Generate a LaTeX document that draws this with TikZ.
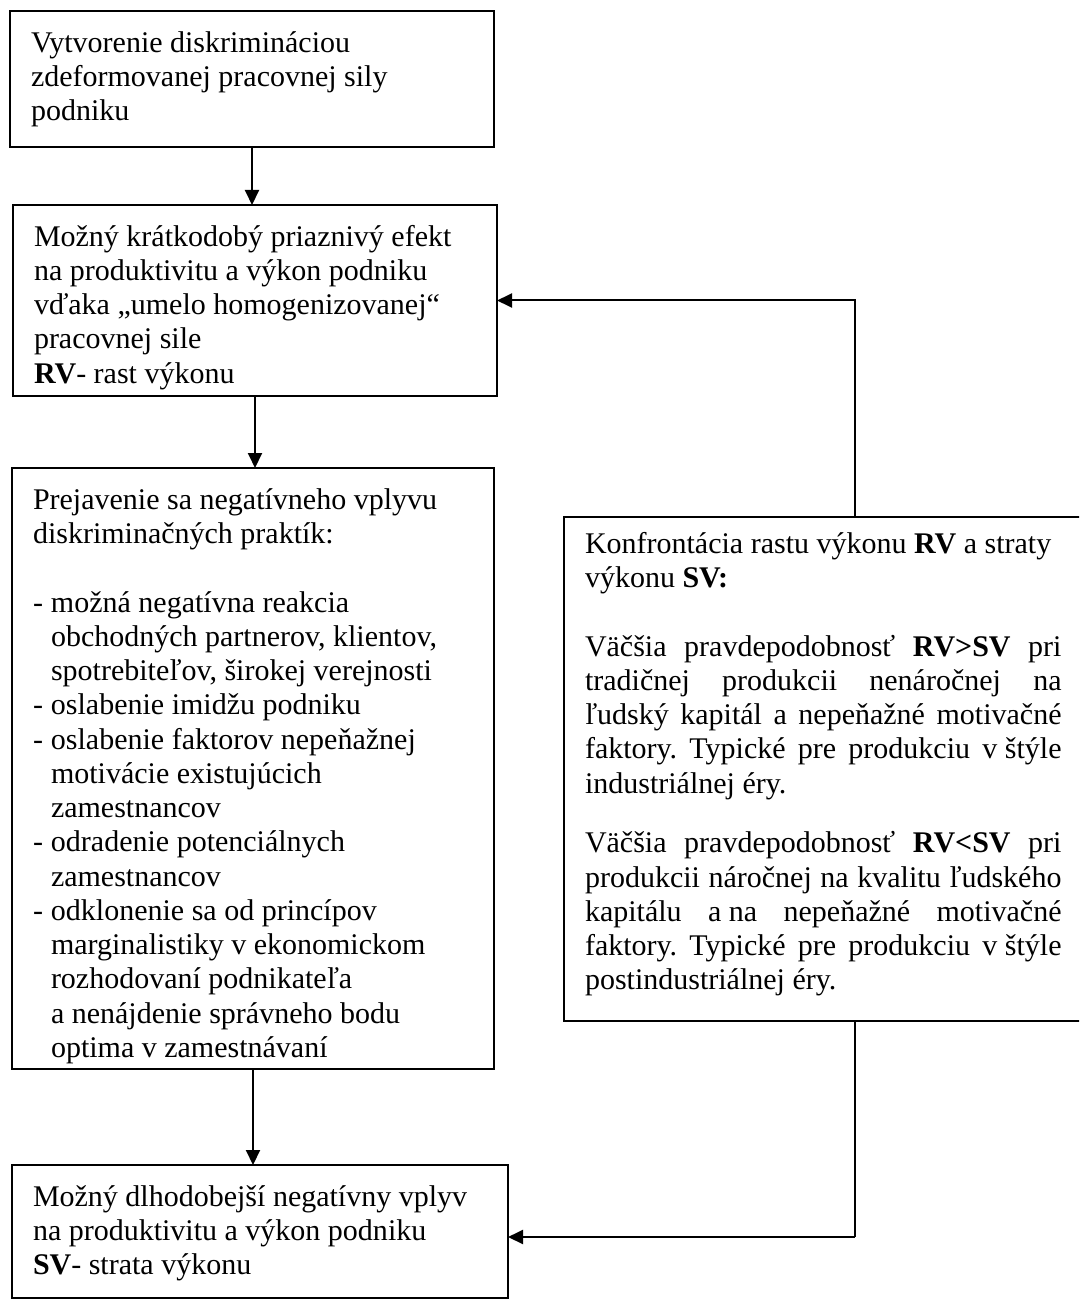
\documentclass[tikz,border=0pt]{standalone}
\usepackage{fontspec}
\setmainfont{Liberation Serif}
\usetikzlibrary{arrows.meta}

\tikzset{
  flowbox/.style={draw, line width=0.8pt, anchor=north west, outer sep=0pt,
    inner xsep=8.4pt, inner ysep=5pt, font=\fontsize{12}{13.7}\selectfont},
  flowarrow/.style={line width=0.8pt, -{Triangle[length=6pt,width=5.6pt]}},
  flowline/.style={line width=0.8pt}
}
\newcommand{\boxtext}[3]{\parbox[t][#2][t]{#1}{\frenchspacing\rule{0pt}{11.5pt}#3}}
\newcommand{\dashitem}{\par\hangindent=7.2pt\hangafter=1\makebox[7.2pt][l]{-}}
\newcommand{\fullline}[1]{\makebox[\linewidth][s]{#1}}

\begin{document}
\begin{tikzpicture}[x=0.4pt, y=-0.4pt]
  \useasboundingbox (0,0) rectangle (1079,1304);
  \clip (0,0) rectangle (1079,1304);

  % left column
  \node[flowbox] (nVytv) at (10,11) {\boxtext{176.8pt}{44.4pt}{%
    Vytvorenie diskrimináciou\\
    zdeformovanej pracovnej sily\\
    podniku}};
  \node[flowbox] (nKratko) at (13,205) {\boxtext{176.8pt}{66.4pt}{%
    Možný krátkodobý priaznivý efekt\\
    na produktivitu a výkon podniku\\
    vďaka „umelo homogenizovanej“\\
    pracovnej sile\\
    \textbf{RV}- rast výkonu}};
  \node[flowbox] (nPrej) at (12,468) {\boxtext{176pt}{230.4pt}{%
    Prejavenie sa negatívneho vplyvu\\
    diskriminačných praktík:\par
    \vspace{\baselineskip}
    \dashitem možná negatívna reakcia\\
      obchodných partnerov, klientov,\\
      spotrebiteľov, širokej verejnosti
    \dashitem oslabenie imidžu podniku
    \dashitem oslabenie faktorov nepeňažnej\\
      motivácie existujúcich\\
      zamestnancov
    \dashitem odradenie potenciálnych\\
      zamestnancov
    \dashitem odklonenie sa od princípov\\
      marginalistiky v ekonomickom\\
      rozhodovaní podnikateľa\\
      a nenájdenie správneho bodu\\
      optima v zamestnávaní}};
  \node[flowbox] (nDlho) at (12,1165) {\boxtext{181.6pt}{43.2pt}{%
    Možný dlhodobejší negatívny vplyv\\
    na produktivitu a výkon podniku\\
    \textbf{SV}- strata výkonu}};

  % right column
  \node[flowbox, inner ysep=3pt] (nKonfr) at (564,517) {\boxtext{190.6pt}{195.6pt}{%
    Konfrontácia rastu výkonu \textbf{RV} a straty\\
    výkonu \textbf{SV:}\par
    \vspace{\baselineskip}
    \fullline{Väčšia pravdepodobnosť \textbf{RV>SV} pri}\\
    \fullline{tradičnej produkcii nenáročnej na}\\
    \fullline{ľudský kapitál a nepeňažné motivačné}\\
    \fullline{faktory. Typické pre produkciu \hbox{v štýle}}\\
    industriálnej éry.\par
    \vspace{10.2pt}
    \fullline{Väčšia pravdepodobnosť \textbf{RV<SV} pri}\\
    \fullline{produkcii náročnej na kvalitu ľudského}\\
    \fullline{kapitálu \hbox{a na} nepeňažné motivačné}\\
    \fullline{faktory. Typické pre produkciu \hbox{v štýle}}\\
    postindustriálnej éry.}};

  \coordinate (fbUp) at (855,300);
  \coordinate (fbLow) at (855,1237);

  % arrows down the left column
  \draw[flowarrow] (nVytv.south) -- (nVytv.south |- nKratko.north);
  \draw[flowarrow] (nKratko.south) -- (nKratko.south |- nPrej.north);
  \draw[flowarrow] (nPrej.south) -- (nPrej.south |- nDlho.north);

  % feedback from the confrontation box
  \draw[flowarrow] (nKonfr.north -| fbUp) |- (nKratko.east);
  \draw[flowline] (nKonfr.south -| fbLow) -- (fbLow);
  \draw[flowarrow] (fbLow) -- (nDlho.east |- fbLow);
\end{tikzpicture}
\end{document}
